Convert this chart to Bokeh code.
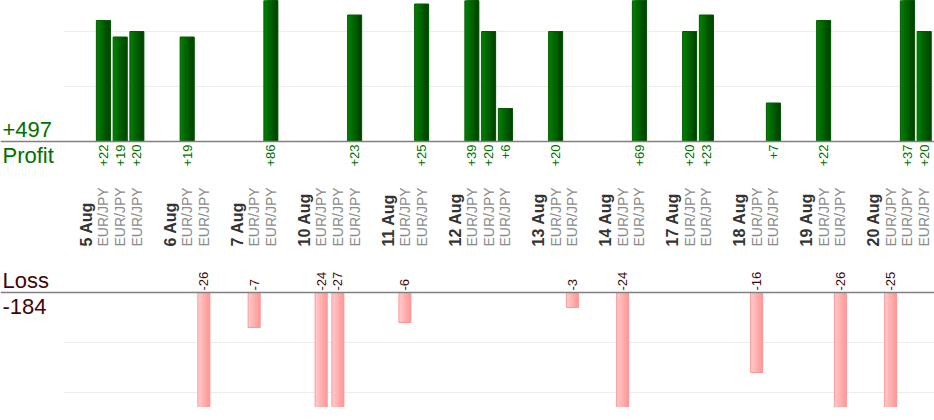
import numpy as np
from bokeh.plotting import figure
from bokeh.models import Range1d, Span
from bokeh.core.properties import value
from bokeh.embed import file_html
from bokeh.resources import INLINE

# ---------------- data ----------------
day_labels = ["5 Aug", "6 Aug", "7 Aug", "10 Aug", "11 Aug", "12 Aug",
              "13 Aug", "14 Aug", "17 Aug", "18 Aug", "19 Aug", "20 Aug"]
trades_per_day = [3, 2, 2, 3, 2, 3, 2, 2, 2, 2, 2, 3]
trade_pair = "EUR/JPY"
trade_pnl = [22, 19, 20,
             19, -26,
             -7, 86,
             -24, -27, 23,
             -6, 25,
             39, 20, 6,
             20, -3,
             -24, 69,
             20, 23,
             -16, 7,
             22, -26,
             -25, 37, 20]
profit_grid = [10, 20]
loss_grid = [10, 20]

# ---------------- layout constants ----------------
W, H = 934, 407
SLOT_PX = 16.75
LEFT_PX = 61
P_BASE, P_PPU = 141, 5.5
L_BASE, L_PPU = 292, 5.0

GREEN_TXT = "#007000"
LOSS_TXT = "#3d0808"
FONT = value("Liberation Sans")

# slot positions: spacer, day label, trades...
day_x, trade_x = [], []
i = 0
for n in trades_per_day:
    i += 1
    day_x.append(i + 0.5)
    i += 1
    for _ in range(n):
        trade_x.append(i + 0.5)
        i += 1

x_start = -LEFT_PX / SLOT_PX
x_end = x_start + W / SLOT_PX

p = figure(width=W, height=H,
           x_range=Range1d(x_start, x_end),
           y_range=Range1d(-(H - P_BASE) / P_PPU, P_BASE / P_PPU),
           x_axis_type=None, y_axis_type=None,
           output_backend="svg", toolbar_location=None, min_border=0)
p.extra_y_ranges = {"loss": Range1d(-(H - L_BASE) / L_PPU, L_BASE / L_PPU)}
p.outline_line_color = None
p.background_fill_color = "white"
p.border_fill_color = "white"
p.grid.visible = False

# grid lines
gx0 = (63 - LEFT_PX) / SLOT_PX
p.segment(x0=[gx0] * len(profit_grid), x1=[x_end] * len(profit_grid),
          y0=profit_grid, y1=profit_grid, line_color="#ececec", line_width=1)
p.segment(x0=[gx0] * len(loss_grid), x1=[x_end] * len(loss_grid),
          y0=[-g for g in loss_grid], y1=[-g for g in loss_grid],
          line_color="#ececec", line_width=1, y_range_name="loss")

# gradient bars as layered quads (each layer runs to the right edge)
def grad_bars(xs, vals, bw, colors, edge, rng):
    n = len(colors)
    L, R, T, C = [], [], [], []
    for j, c in enumerate(colors):
        for xc, v in zip(xs, vals):
            L.append(xc - bw / 2 + j * bw / n)
            R.append(xc + bw / 2)
            T.append(v)
            C.append(c)
    kw = {} if rng is None else {"y_range_name": rng}
    p.quad(left=L, right=R, top=T, bottom=[0] * len(T), fill_color=C,
           line_color=None, **kw)
    p.vbar(x=xs, top=vals, bottom=0, width=bw, fill_color=None,
           line_color=edge, line_width=1, **kw)

prof_x = [x for x, v in zip(trade_x, trade_pnl) if v > 0]
prof_v = [v for v in trade_pnl if v > 0]
loss_x = [x for x, v in zip(trade_x, trade_pnl) if v < 0]
loss_v = [v for v in trade_pnl if v < 0]

green_cols = ["#007e00", "#007400", "#006a00", "#006000", "#005600", "#004c00", "#004400"]
pink_cols = ["#ffc8c8", "#ffc0c0", "#ffb8b8", "#ffb0b0", "#ffa8a8", "#ffa1a1", "#ff9b9b"]
grad_bars(prof_x, prof_v, 14 / SLOT_PX, green_cols, "#005c00", None)
grad_bars(loss_x, loss_v, 12 / SLOT_PX, pink_cols, "#ff9999", "loss")

# baselines
p.add_layout(Span(location=0, dimension="width", line_color="#808080", line_width=1.5))
p.add_layout(Span(location=0, dimension="width", line_color="#808080", line_width=1.5,
                  y_range_name="loss"))

# value labels
p.text(x=prof_x, y=[-3 / P_PPU] * len(prof_x), text=["+%d" % v for v in prof_v],
       angle=np.pi / 2, text_align="right", text_baseline="middle",
       text_font=FONT, text_font_size="13px", text_color=GREEN_TXT)
p.text(x=loss_x, y=[2 / L_PPU] * len(loss_x), text=["%d" % v for v in loss_v],
       angle=np.pi / 2, text_align="left", text_baseline="middle",
       text_font=FONT, text_font_size="13px", text_color=LOSS_TXT,
       y_range_name="loss")

# category labels
lab_y = -(246 - P_BASE) / P_PPU
p.text(x=day_x, y=[lab_y] * len(day_x), text=day_labels,
       angle=np.pi / 2, text_align="left", text_baseline="middle",
       text_font=FONT, text_font_size="16px", text_font_style="bold",
       text_color="#333333")
p.text(x=trade_x, y=[lab_y] * len(trade_x), text=[trade_pair] * len(trade_x),
       angle=np.pi / 2, text_align="left", text_baseline="middle",
       text_font=FONT, text_font_size="14px", text_color="#8a8a8a")

# totals
tx = x_start + 2 / SLOT_PX
total_profit = sum(prof_v)
total_loss = sum(loss_v)
p.text(x=[tx, tx], y=[12.3 / P_PPU, -14.0 / P_PPU],
       text=["+%d" % total_profit, "Profit"], text_align="left",
       text_baseline="middle", text_font=FONT, text_font_size="22px",
       text_color=GREEN_TXT)
p.text(x=[tx, tx], y=[11.7 / L_PPU, -13.5 / L_PPU],
       text=["Loss", "%d" % total_loss], text_align="left",
       text_baseline="middle", text_font=FONT, text_font_size="22px",
       text_color=LOSS_TXT, y_range_name="loss")

open("out.html", "w").write(file_html(p, INLINE))
